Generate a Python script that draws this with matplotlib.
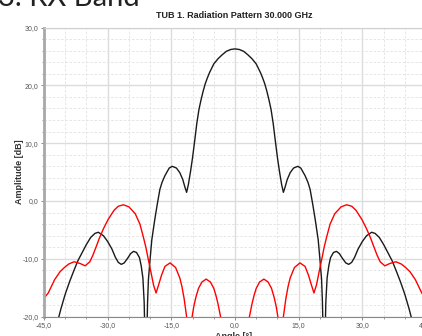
import numpy as np
import matplotlib.pyplot as plt
from matplotlib.ticker import MultipleLocator, FuncFormatter

# angle [deg] / amplitude [dB]
black_ang = [-43.0, -42.0, -41.0, -40.0, -39.0, -38.0, -37.0, -36.0, -35.0, -34.0,
             -33.0, -32.2, -31.0, -30.0, -29.0, -28.2, -27.5, -26.8, -26.1, -25.3,
             -24.6, -23.9, -23.2, -22.5, -22.1, -21.7, -21.4, -21.15, -20.85, -20.6,
             -20.4, -20.0, -19.6, -18.9, -18.3, -17.7, -17.2, -16.5, -15.5, -14.8,
             -13.8, -13.0, -12.3, -11.8, -11.4, -11.0, -10.5, -10.0, -9.5, -9.0,
             -8.5, -8.0, -7.5, -7.0, -6.5, -6.0, -5.0, -4.0, -3.0, -2.0, -1.0,
             0.0, 1.0, 2.0, 3.0, 4.0, 5.0, 6.0, 6.5, 7.0, 7.5, 8.0, 8.5, 9.0, 9.5,
             10.0, 10.5, 11.0, 11.4, 11.8, 12.3, 13.0, 13.8, 14.8, 15.5, 16.5, 17.2,
             17.7, 18.3, 18.9, 19.6, 20.0, 20.4, 20.6, 20.85, 21.15, 21.4, 21.7, 22.1,
             22.5, 23.2, 23.9, 24.6, 25.3, 26.1, 26.8, 27.5, 28.2, 29.0, 30.0, 31.0,
             32.2, 33.0, 34.0, 35.0, 36.0, 37.0, 38.0, 39.0, 40.0, 41.0, 42.0, 43.0]
black_db = [-24.5, -21.4, -18.6, -16.1, -14.0, -12.1, -10.3, -8.9, -7.5, -6.3,
            -5.6, -5.4, -6.0, -7.0, -8.3, -9.7, -10.6, -10.95, -10.7, -9.9,
            -9.1, -8.7, -8.9, -9.8, -11.2, -13.3, -17.5, -26.0, -26.0, -17.5,
            -13.6, -10.0, -6.7, -3.2, -0.5, 2.0, 3.2, 4.4, 5.7, 6.0,
            5.7, 4.9, 3.7, 2.4, 1.5, 2.8, 5.0, 7.5, 10.4, 13.4,
            15.8, 17.5, 19.0, 20.3, 21.3, 22.2, 23.7, 24.6, 25.3, 25.9, 26.2,
            26.3, 26.2, 25.9, 25.3, 24.6, 23.7, 22.2, 21.3, 20.3, 19.0, 17.5, 15.8, 13.4, 10.4,
            7.5, 5.0, 2.8, 1.5, 2.4, 3.7, 4.9, 5.7, 6.0, 5.7, 4.4, 3.2,
            2.0, -0.5, -3.2, -6.7, -10.0, -13.6, -17.5, -26.0, -26.0, -17.5, -13.3, -11.2,
            -9.8, -8.9, -8.7, -9.1, -9.9, -10.7, -10.95, -10.6, -9.7, -8.3, -7.0, -6.0,
            -5.4, -5.6, -6.3, -7.5, -8.9, -10.3, -12.1, -14.0, -16.1, -18.6, -21.4, -24.5]

red_ang = [-45.0, -44.0, -42.5, -41.2, -40.2, -39.2, -37.9, -36.5, -35.3, -34.2,
           -33.5, -32.6, -32.0, -31.0, -29.9, -28.5, -27.5, -26.3, -25.0, -23.5,
           -22.4, -21.6, -21.0, -20.4, -19.8, -19.2, -18.6, -18.0, -17.3, -16.5,
           -15.3, -14.0, -13.0, -12.5, -12.0, -11.4, -11.0, -10.75, -10.5, -10.1,
           -9.7, -9.2, -8.6, -7.8, -6.8, -5.8, -5.0, -4.5, -4.0, -3.4, -2.5, -1.5,
           0.0, 1.5, 2.5, 3.4, 4.0, 4.5, 5.0, 5.8, 6.8, 7.8, 8.6, 9.2, 9.7, 10.1,
           10.5, 10.75, 11.0, 11.4, 12.0, 12.5, 13.0, 14.0, 15.3, 16.5, 17.3, 18.0,
           18.6, 19.2, 19.8, 20.4, 21.0, 21.6, 22.4, 23.5, 25.0, 26.3, 27.5, 28.5,
           29.9, 31.0, 32.0, 32.6, 33.5, 34.2, 35.3, 36.5, 37.9, 39.2, 40.2, 41.2,
           42.5, 44.0, 45.0]
red_db = [-16.8, -15.9, -13.6, -12.2, -11.5, -10.9, -10.5, -10.8, -11.2, -10.5,
          -9.4, -7.7, -6.5, -4.8, -3.2, -1.6, -0.9, -0.65, -1.0, -2.2,
          -4.0, -6.2, -8.0, -10.2, -12.3, -14.5, -15.9, -14.5, -12.8, -11.3,
          -10.7, -11.5, -13.3, -14.8, -16.8, -20.0, -23.5, -28.0, -23.5, -20.0,
          -18.2, -16.6, -15.1, -14.0, -13.5, -14.0, -15.1, -16.3, -17.8, -20.0, -22.5, -26.0,
          -30.0, -26.0, -22.5, -20.0, -17.8, -16.3, -15.1, -14.0, -13.5, -14.0, -15.1, -16.6, -18.2, -20.0,
          -23.5, -28.0, -23.5, -20.0, -16.8, -14.8, -13.3, -11.5, -10.7, -11.3, -12.8, -14.5,
          -15.9, -14.5, -12.3, -10.2, -8.0, -6.2, -4.0, -2.2, -1.0, -0.65, -0.9, -1.6,
          -3.2, -4.8, -6.5, -7.7, -9.4, -10.5, -11.2, -10.8, -10.5, -10.9, -11.5, -12.2,
          -13.6, -15.9, -16.8]

x_ticks = [-45, -30, -15, 0, 15, 30, 45]
y_ticks = [-20, -10, 0, 10, 20, 30]

fig = plt.figure(figsize=(4.22, 3.36), dpi=100)
ax = fig.add_axes([44 / 422, 19.3 / 336, 382 / 422, 289.2 / 336])

ax.plot(black_ang, black_db, color='#1a1a1a', lw=1.0)
ax.plot(red_ang, red_db, color='#ff0000', lw=1.0)

ax.set_xlim(-45, 45)
ax.set_ylim(-20, 30)
ax.set_xticks(x_ticks)
ax.set_yticks(y_ticks)
ax.xaxis.set_minor_locator(MultipleLocator(5))
ax.yaxis.set_minor_locator(MultipleLocator(2))
fmt = FuncFormatter(lambda v, p: ('%.1f' % v).replace('.', ','))
ax.xaxis.set_major_formatter(fmt)
ax.yaxis.set_major_formatter(fmt)

ax.grid(which='major', color='#dcdcdc', lw=1.0, ls='-')
ax.grid(which='minor', color='#e2e2e2', lw=0.6, ls=(0, (3, 2)))
ax.set_axisbelow(True)

for lab in ax.get_xticklabels() + ax.get_yticklabels():
    lab.set_fontfamily('Liberation Sans')
    lab.set_fontsize(5)
    lab.set_color('#555555')
ax.tick_params(which='major', length=2.5, width=0.6, color='#777777', pad=1.5)
ax.tick_params(which='minor', length=1.5, width=0.5, color='#777777')

ax.spines['left'].set_color('#a8a8a8')
ax.spines['left'].set_linewidth(2.0)
ax.spines['bottom'].set_color('#888888')
ax.spines['bottom'].set_linewidth(0.8)
ax.spines['top'].set_color('#d0d0d0')
ax.spines['top'].set_linewidth(0.8)
ax.spines['right'].set_visible(False)

fig.text(20 / 422, 1 - 171.5 / 336, 'Amplitude [dB]', fontsize=6.5, fontweight='bold',
         color='#333333', rotation=90, ha='center', va='center',
         fontfamily='Liberation Sans')
fig.text(234 / 422, 4 / 336, 'Angle [°]', fontsize=6.5, fontweight='bold',
         color='#333333', ha='center', va='top', fontfamily='Liberation Sans')

fig.text(234 / 422, 1 - 16 / 336, 'TUB 1. Radiation Pattern 30.000 GHz',
         fontsize=6.5, fontweight='bold', color='#222222', ha='center', va='center',
         fontfamily='Liberation Sans')
fig.text(-0.005, 1 - 6 / 336, '3. RX Band', fontsize=21, color='#222222',
         ha='left', va='baseline', fontfamily='Lato')

fig.savefig('out.png', dpi=100)
